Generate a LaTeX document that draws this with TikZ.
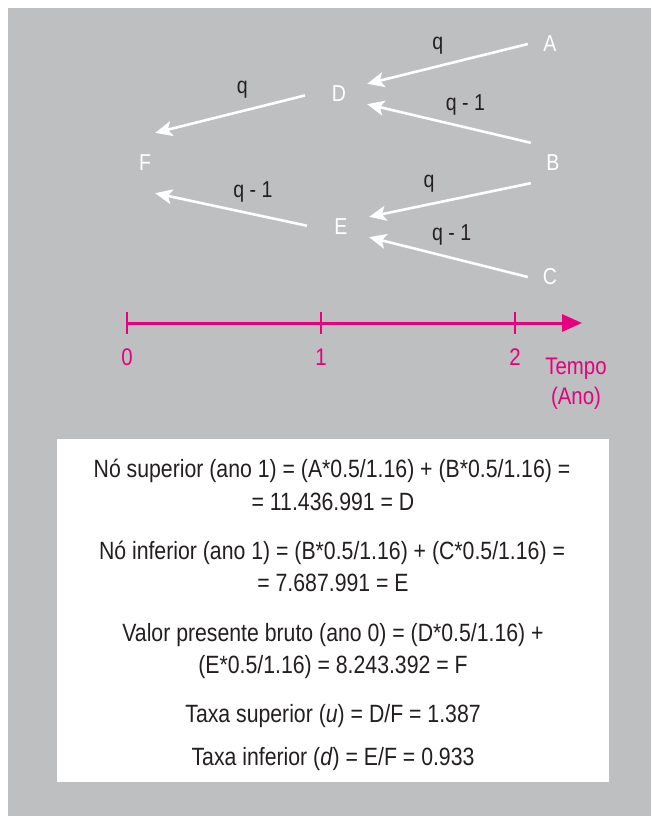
\documentclass[tikz,border=0pt]{standalone}
\usepackage{fontspec}
\setmainfont{Liberation Sans}[FakeStretch=0.85]
\usetikzlibrary{
	arrows.meta,
	positioning
}
\definecolor{bggray}{RGB}{190,191,193}
\definecolor{axispink}{RGB}{230,0,126}
\definecolor{ink}{RGB}{35,31,32}

\begin{document}
\begin{tikzpicture}[x=1pt,y=-1pt,
		leaf/.style={text=white, font=\fontsize{23}{26}\selectfont, inner sep=0pt, minimum width=44pt, minimum height=40pt},
		mid/.style={text=white, font=\fontsize{23}{26}\selectfont, inner sep=0pt, minimum width=56pt, minimum height=20pt},
		root/.style={text=white, font=\fontsize{23}{26}\selectfont, inner sep=0pt, minimum width=20pt, minimum height=60pt},
		arrow/.style={draw=white, line width=2.6pt, -{Stealth[length=17pt,width=15pt,inset=4pt]}},
		back/.style={shorten <=6pt},
		lbl/.style={text=ink, font=\fontsize{23}{26}\selectfont, inner sep=0pt, above=11pt},
		axis/.style={draw=axispink, line width=3pt, -{Triangle[length=20pt,width=17pt]}},
		tick/.style={draw=axispink, line width=2pt},
		axlbl/.style={text=axispink, font=\fontsize{24}{30}\selectfont, inner sep=0pt, align=center},
		calc/.style={text=ink, font=\fontsize{25}{28}\selectfont, inner sep=0pt, anchor=base}
		]
		
		\useasboundingbox (0,0) rectangle (651,816);
		\fill[bggray] (8,8) rectangle (651,816);
		
		% --- Tree ---
		\node[leaf] (A) at (550,44) {A};
		\node[leaf] (B) at (553,163) {B};
		\node[leaf] (C) at (550,277) {C};
		
		\node[mid] (D) at (339,94) {D};
		\node[mid] (E) at (341,227) {E};
		
		\node[root] (F) at (145,163) {F};
		
		\draw[arrow] (A.west) -- node[lbl,pos=0.56] {q} (D.north east);
		\draw[arrow] (B.north west) -- node[lbl,pos=0.4] {q - 1} (D.south east);
		\draw[arrow] (B.south west) -- node[lbl,pos=0.63] {q} (E.north east);
		\draw[arrow] (C.west) -- node[lbl,pos=0.48] {q - 1} (E.south east);
		
		\draw[arrow,back] (D.west) -- node[lbl,pos=0.44] {q} (F.north east);
		\draw[arrow,back] (E.west) -- node[lbl,pos=0.38] {q - 1} (F.south east);
		
		% --- Time axis ---
		\coordinate (t0) at (127,323);
		\coordinate (t1) at (321,323);
		\coordinate (t2) at (515,323);
		\coordinate (tend) at (582,323);
		
		\draw[axis] (t0) -- (tend);
		\foreach \t in {t0,t1,t2}
			\draw[tick] ([yshift=-11pt]\t) -- ([yshift=11pt]\t);
		
		\node[axlbl] (n0) at (127,357) {0};
		\node[axlbl] (n1) at (321,357) {1};
		\node[axlbl] (n2) at (515,357) {2};
		\node[axlbl] (tempo) at (576,384) {Tempo\\(Ano)};
		
		% --- Calculations ---
		\fill[white] (57,439) rectangle (609,782);
		
		\node[calc] (sup1) at (332,477) {Nó superior (ano 1) = (A*0.5/1.16) + (B*0.5/1.16) =};
		\node[calc] (sup2) at (333,510) {= 11.436.991 = D};
		\node[calc] (inf1) at (332,559) {Nó inferior (ano 1) = (B*0.5/1.16) + (C*0.5/1.16) =};
		\node[calc] (inf2) at (333,591) {= 7.687.991 = E};
		\node[calc] (vpb1) at (333,641) {Valor presente bruto (ano 0) = (D*0.5/1.16) +};
		\node[calc] (vpb2) at (333,673) {(E*0.5/1.16) = 8.243.392 = F};
		\node[calc] (tsup) at (333,722) {Taxa superior (\textit{u}) = D/F = 1.387};
		\node[calc] (tinf) at (333,765) {Taxa inferior (\textit{d}) = E/F = 0.933};
		
\end{tikzpicture}
\end{document}
